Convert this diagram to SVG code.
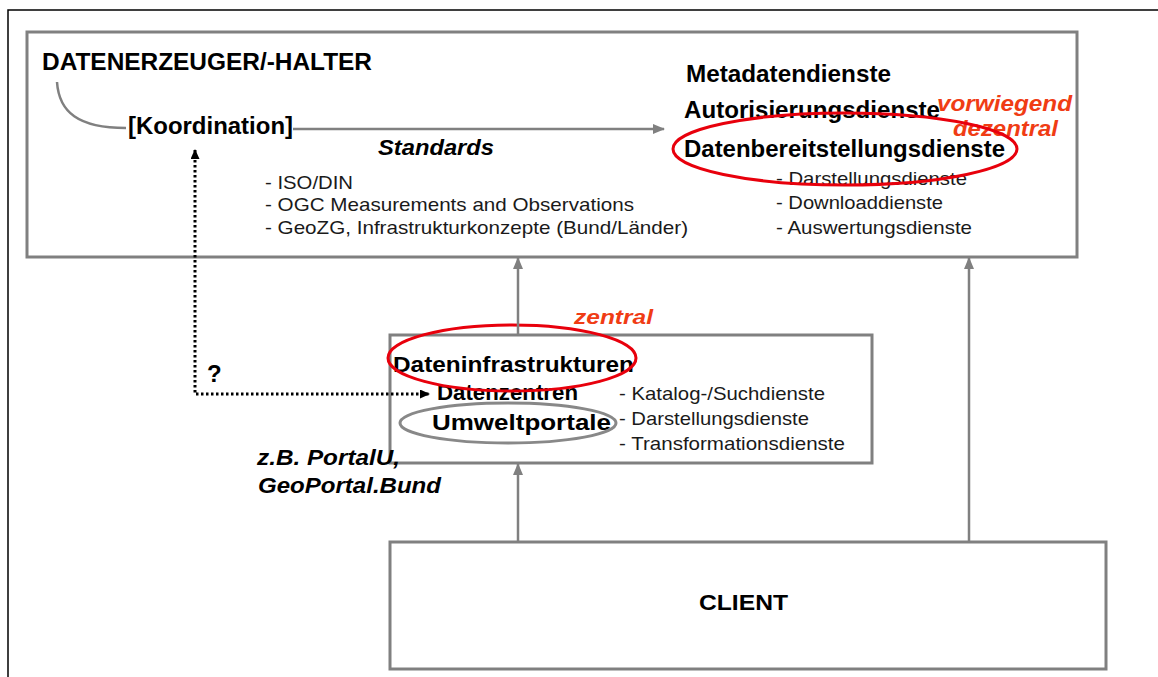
<svg xmlns="http://www.w3.org/2000/svg" width="1158" height="677" viewBox="0 0 1158 677">
<defs>
<marker id="ag" markerUnits="userSpaceOnUse" markerWidth="12" markerHeight="10" refX="11" refY="5" orient="auto"><path d="M0,0 L12,5 L0,10 z" fill="#808080"/></marker>
<marker id="ab" markerUnits="userSpaceOnUse" markerWidth="10" markerHeight="9" refX="9" refY="4.5" orient="auto-start-reverse"><path d="M0,0 L10,4.5 L0,9 z" fill="#000"/></marker>
</defs>
<style>
.box{fill:#fff;stroke:#808080;stroke-width:3}
.t{font-family:"Liberation Sans",Arial,sans-serif;fill:#000}
.b{font-weight:bold}
.i{font-style:italic}
.r{font-size:19px;fill:#1a1a1a}
.red{fill:#f03c14;font-weight:bold;font-style:italic}
.conn{stroke:#808080;stroke-width:2.5;fill:none}
.ell{fill:none;stroke-width:3}
</style>
<rect width="1158" height="677" fill="#fff"/>
<path d="M8,677 V10 H1158" fill="none" stroke="#000" stroke-width="1.5"/>

<g id="top-box">
<rect class="box" x="27" y="32" width="1050" height="225"/>
<text class="t b" x="42" y="70" font-size="24" textLength="330" lengthAdjust="spacingAndGlyphs">DATENERZEUGER/-HALTER</text>
<text class="t b" x="128" y="134" font-size="24" textLength="165" lengthAdjust="spacingAndGlyphs">[Koordination]</text>
<text class="t b i" x="378" y="155" font-size="22" textLength="116" lengthAdjust="spacingAndGlyphs">Standards</text>
<text class="t r" x="265" y="189" textLength="88" lengthAdjust="spacingAndGlyphs">- ISO/DIN</text>
<text class="t r" x="265" y="211" textLength="369" lengthAdjust="spacingAndGlyphs">- OGC Measurements and Observations</text>
<text class="t r" x="265" y="234" textLength="423" lengthAdjust="spacingAndGlyphs">- GeoZG, Infrastrukturkonzepte (Bund/Länder)</text>
<text class="t b" x="686" y="82" font-size="24" textLength="205" lengthAdjust="spacingAndGlyphs">Metadatendienste</text>
<text class="t b" x="684" y="118" font-size="24" textLength="256" lengthAdjust="spacingAndGlyphs">Autorisierungsdienste</text>
<text class="t b" x="684" y="157" font-size="24" textLength="321" lengthAdjust="spacingAndGlyphs">Datenbereitstellungsdienste</text>
<text class="t r" x="776" y="185" textLength="191" lengthAdjust="spacingAndGlyphs">- Darstellungsdienste</text>
<text class="t r" x="776" y="209" textLength="167" lengthAdjust="spacingAndGlyphs">- Downloaddienste</text>
<text class="t r" x="776" y="234" textLength="196" lengthAdjust="spacingAndGlyphs">- Auswertungsdienste</text>
<text class="t red" x="937" y="111" font-size="22" textLength="135" lengthAdjust="spacingAndGlyphs">vorwiegend</text>
<text class="t red" x="953" y="136" font-size="22" textLength="105" lengthAdjust="spacingAndGlyphs">dezentral</text>
</g>
<g id="ellipse-dezentral"><ellipse class="ell" cx="845" cy="149" rx="172" ry="36" stroke="#e8000c"/></g>

<g id="middle-box">
<rect class="box" x="390" y="335" width="482" height="128"/>
<text class="t b" x="393" y="372" font-size="22" textLength="241" lengthAdjust="spacingAndGlyphs">Dateninfrastrukturen</text>
<text class="t b" x="437" y="400" font-size="22" textLength="141" lengthAdjust="spacingAndGlyphs">Datenzentren</text>
<text class="t b" x="432" y="430" font-size="22" textLength="179" lengthAdjust="spacingAndGlyphs">Umweltportale</text>
<text class="t r" x="619" y="400" font-size="18" textLength="206" lengthAdjust="spacingAndGlyphs">- Katalog-/Suchdienste</text>
<text class="t r" x="619" y="425" font-size="18" textLength="190" lengthAdjust="spacingAndGlyphs">- Darstellungsdienste</text>
<text class="t r" x="619" y="450" font-size="18" textLength="226" lengthAdjust="spacingAndGlyphs">- Transformationsdienste</text>
</g>
<g id="ellipse-zentral">
<ellipse class="ell" cx="512" cy="358" rx="124" ry="33" stroke="#e8000c"/>
<text class="t red" x="574" y="324" font-size="21" textLength="79" lengthAdjust="spacingAndGlyphs">zentral</text>
</g>
<g id="ellipse-umweltportale"><ellipse class="ell" cx="508" cy="423" rx="108" ry="20" stroke="#888"/></g>

<g id="client">
<rect class="box" x="390" y="542" width="716" height="127"/>
<text class="t b" x="699" y="610" font-size="22" textLength="89" lengthAdjust="spacingAndGlyphs">CLIENT</text>
</g>

<g id="labels">
<text class="t b" x="207" y="382" font-size="24">?</text>
<text class="t b i" x="257" y="465" font-size="22" textLength="143" lengthAdjust="spacingAndGlyphs">z.B. PortalU,</text>
<text class="t b i" x="258" y="493" font-size="22" textLength="183" lengthAdjust="spacingAndGlyphs">GeoPortal.Bund</text>
</g>

<g id="connectors">
<path class="conn" d="M57,82 C59,112 78,128 126,128"/>
<path class="conn" d="M293,129 H664" marker-end="url(#ag)"/>
<path class="conn" d="M518,542 V464" marker-end="url(#ag)"/>
<path class="conn" d="M518,335 V258" marker-end="url(#ag)"/>
<path class="conn" d="M969,542 V258" marker-end="url(#ag)"/>
<path d="M195,150 V394 H429" fill="none" stroke="#000" stroke-width="3" stroke-dasharray="2.5 2.5" marker-start="url(#ab)" marker-end="url(#ab)"/>
</g>
</svg>
